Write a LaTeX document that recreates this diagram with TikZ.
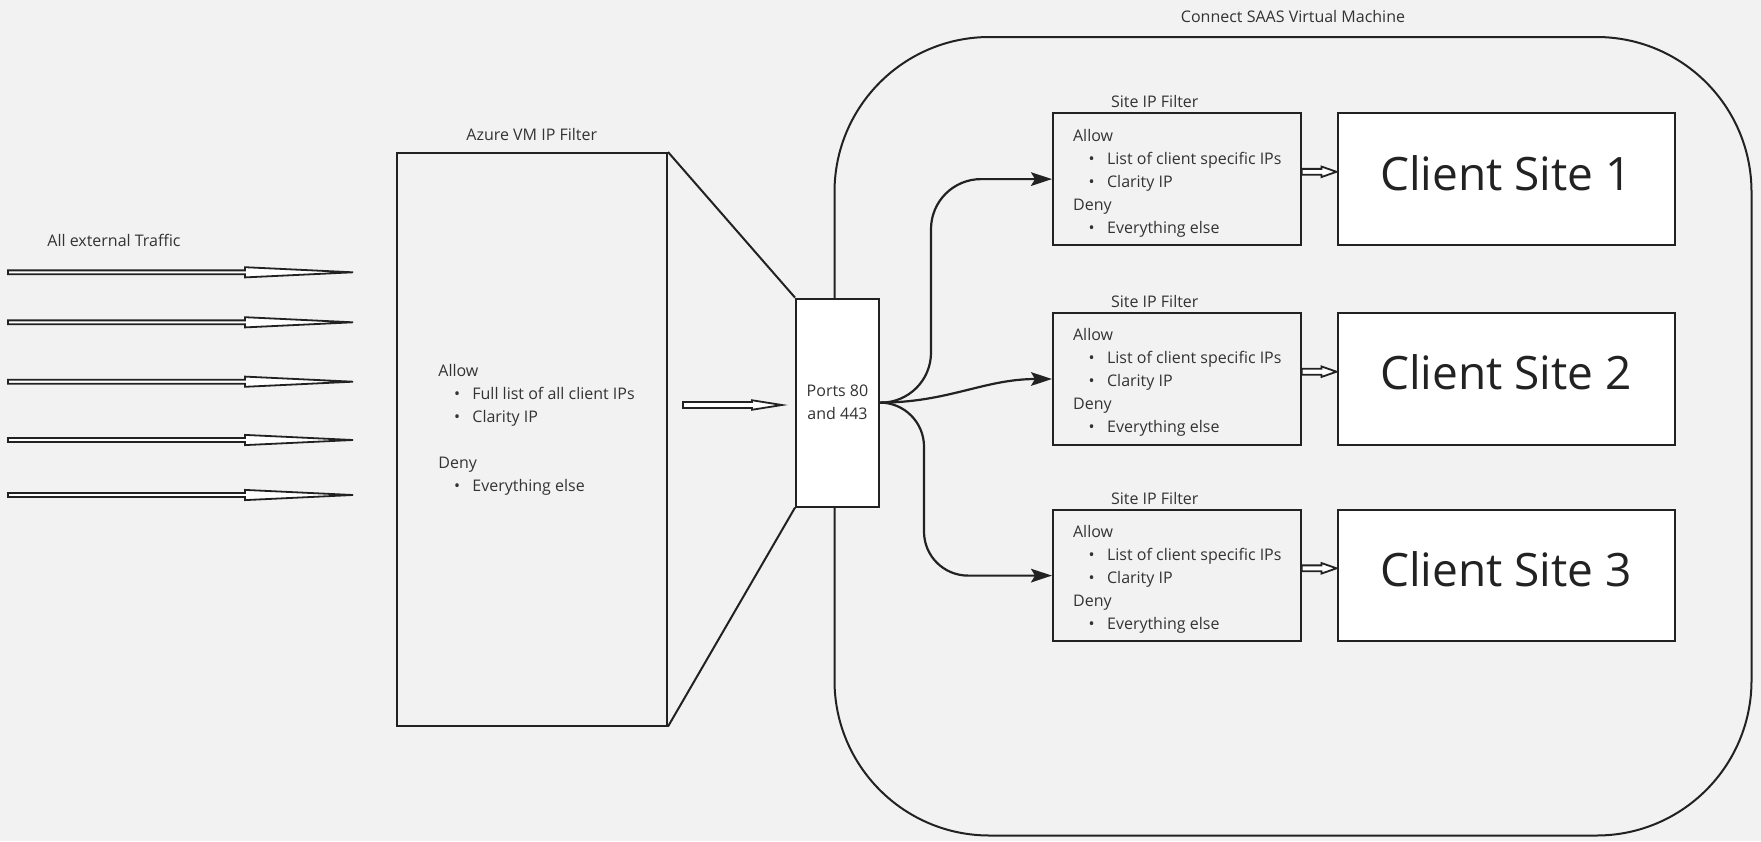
\documentclass[tikz,border=0pt]{standalone}
\usepackage{fontspec}
\setmainfont{Open Sans}
\usepackage{tikz}
\usetikzlibrary{arrows.meta,positioning,calc}

\definecolor{bg}{HTML}{F2F2F2}
\definecolor{ink}{HTML}{222222}
\definecolor{txt}{HTML}{333333}
\newcommand{\itm}[1]{\hspace*{7.8pt}\makebox[9.2pt][l]{\textbullet}#1}
\newcommand{\sitefilter}{Allow\\ \itm{List of client specific IPs}\\ \itm{Clarity IP}\\ Deny\\ \itm{Everything else}}

\begin{document}
\begin{tikzpicture}[x=0.5pt, y=-0.5pt,
    every node/.style={font=\fontsize{8}{11.5}\selectfont, text=txt},
    box/.style={rectangle, draw=ink, line width=1pt, inner sep=0pt},
    vm/.style={box, minimum width=135.25pt, minimum height=286.25pt},
    flt/.style={box, minimum width=123.8pt, minimum height=65.7pt},
    site/.style={box, fill=white, minimum width=168.5pt, minimum height=65.7pt,
                 font=\fontsize{23}{28}\selectfont, text=ink, text depth=6.5pt},
    port/.style={box, fill=white, align=center, minimum width=41.5pt, minimum height=104pt},
    lbl/.style={inner sep=0pt},
    ftxt/.style={lbl, align=left, anchor=north west},
    e/.style={draw=ink, line width=1.1pt, rounded corners=22pt,
              -{Stealth[length=10.5pt, width=6.8pt, inset=2pt]}},
    hol/.style n args={3}{draw=ink, fill=white, line width=0.9pt,
      to path={($(\tikztostart)+(0,#1)$) -- ($(\tikztotarget)+(-#3,#1)$)
        -- ($(\tikztotarget)+(-#3,#2)$) -- (\tikztotarget)
        -- ($(\tikztotarget)+(-#3,-#2)$) -- ($(\tikztotarget)+(-#3,-#1)$)
        -- ($(\tikztostart)+(0,-#1)$) -- cycle}},
  ]
  \fill[bg] (0,0) rectangle (1761,841);
  \useasboundingbox (0,0) rectangle (1761,841);

  % incoming traffic
  \node[lbl, anchor=base west] (trf) at (47, 246.7) {All external Traffic};
  \coordinate (in1) at (8, 272.3);  \coordinate (tip1) at (353, 272.3);
  \coordinate (in2) at (8, 322.3);  \coordinate (tip2) at (353, 322.3);
  \coordinate (in3) at (8, 381.7);  \coordinate (tip3) at (353, 381.7);
  \coordinate (in4) at (8, 440.0);  \coordinate (tip4) at (353, 440.0);
  \coordinate (in5) at (8, 495.0);  \coordinate (tip5) at (353, 495.0);
  \draw[hol={1.95}{5.1}{108}] (in1) to (tip1);
  \draw[hol={1.95}{5.1}{108}] (in2) to (tip2);
  \draw[hol={1.95}{5.1}{108}] (in3) to (tip3);
  \draw[hol={1.95}{5.1}{108}] (in4) to (tip4);
  \draw[hol={1.95}{5.1}{108}] (in5) to (tip5);

  % azure filter
  \node[vm] (vm) at (531.75, 439.25) {};
  \node[lbl, above=5.6pt of vm] (vmlbl) {Azure VM IP Filter};
  \node[ftxt] (vmtxt) at (438, 363.8) {Allow\\ \itm{Full list of all client IPs}\\
    \itm{Clarity IP}\\[11.5pt] Deny\\ \itm{Everything else}};
  \coordinate (m1) at (683, 405);
  \coordinate (m2) at (782, 405);
  \draw[hol={2.95}{4.75}{30}] (m1) to (m2);

  % saas machine
  \node[box, rounded corners=77.5pt, minimum width=458.5pt, minimum height=399.25pt]
    (saas) at (1293, 436.25) {};
  \node[lbl, above=6.5pt of saas] (saaslbl) {Connect SAAS Virtual Machine};
  \node[port] (port) at (837.5, 402.6) {Ports 80\\and 443};
  \draw[ink, line width=1pt] (vm.north east) -- (port.north west);
  \draw[ink, line width=1pt] (vm.south east) -- (port.south west);

  \node[flt] (flt1) at (1176.8, 179.1) {};
  \node[flt] (flt2) at (1176.8, 379.0) {};
  \node[flt] (flt3) at (1176.8, 575.6) {};
  \node[ftxt] (ft1) at ([shift={(20.7,16.1)}]flt1.north west) {\sitefilter};
  \node[ftxt] (ft2) at ([shift={(20.7,16.1)}]flt2.north west) {\sitefilter};
  \node[ftxt] (ft3) at ([shift={(20.7,16.1)}]flt3.north west) {\sitefilter};
  \node[lbl, above=2pt of flt1, xshift=-11pt] (fl1) {Site IP Filter};
  \node[lbl, above=2pt of flt2, xshift=-11pt] (fl2) {Site IP Filter};
  \node[lbl, above=2pt of flt3, xshift=-11pt] (fl3) {Site IP Filter};

  \node[site] (site1) at (1506, 179.1) {Client Site 1};
  \node[site] (site2) at (1506, 379.0) {Client Site 2};
  \node[site] (site3) at (1506, 575.6) {Client Site 3};

  \coordinate (j1) at ([xshift=25.5pt]port.east);
  \coordinate (j3) at ([xshift=22pt]port.east);
  \draw[e, rounded corners=25pt] (port.east) -| (j1 |- flt1.west) -- (flt1.west);
  \draw[e] (port.east) to[out=0, in=180] (flt2.west);
  \draw[e] (port.east) -| (j3 |- flt3.west) -- (flt3.west);

  \draw[hol={2.95}{5.25}{15}] ([yshift=3.65pt]flt1.east) to ([yshift=3.65pt]site1.west);
  \draw[hol={2.95}{5.25}{15}] ([yshift=3.65pt]flt2.east) to ([yshift=3.65pt]site2.west);
  \draw[hol={2.95}{5.25}{15}] ([yshift=3.65pt]flt3.east) to ([yshift=3.65pt]site3.west);
\end{tikzpicture}
\end{document}
